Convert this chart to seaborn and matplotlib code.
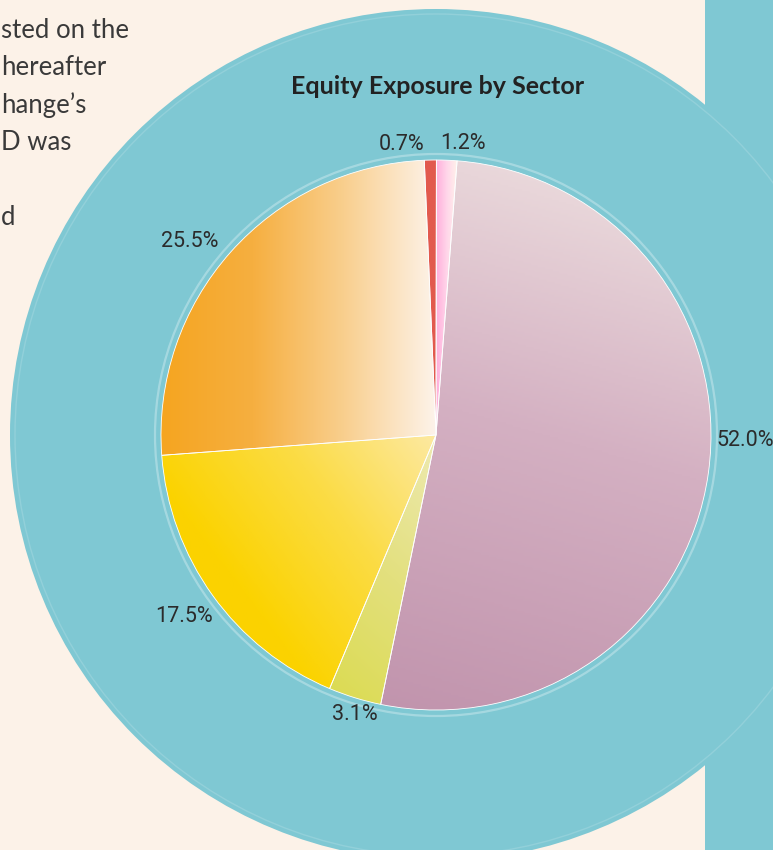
import numpy as np
import matplotlib
matplotlib.use("Agg")
import matplotlib.pyplot as plt
import seaborn as sns
from matplotlib.colors import LinearSegmentedColormap
from matplotlib.patches import Circle, Rectangle

# ---- data ----
sectors = ["Sector A", "Sector B", "Sector C", "Sector D", "Sector E", "Sector F"]
shares = [52.0, 3.1, 17.5, 25.5, 0.7, 1.2]
pct_labels = ["52.0%", "3.1%", "17.5%", "25.5%", "0.7%", "1.2%"]
title_text = "Equity Exposure by Sector"
side_lines = ["sted on the", "hereafter", "hange\u2019s", "D was", "", "d"]

# ---- style ----
sns.set_theme(style="white")
plt.rcParams["font.family"] = ["Lato", "DejaVu Sans"]

W, H = 773, 850
fig = plt.figure(figsize=(W / 100, H / 100), dpi=100)
ax = fig.add_axes([0, 0, 1, 1])
ax.set_xlim(0, W)
ax.set_ylim(0, H)
ax.set_aspect("equal")
ax.axis("off")

cream = "#fcf2e8"
teal = "#7fc8d3"
fig.patch.set_facecolor(cream)

cx, cy, R = 436, H - 435, 275
# background teal disc + right band
ax.add_patch(Circle((cx, cy), 426, facecolor=teal, edgecolor="none", zorder=1))
ax.add_patch(Rectangle((705, 0), W - 705, H, facecolor=teal, edgecolor="none", zorder=1))
ax.add_patch(Circle((cx, cy), 421, facecolor="none", edgecolor="white", lw=1.0, alpha=0.15, zorder=2))
ax.add_patch(Circle((cx, cy), R + 6, facecolor="none", edgecolor="white", lw=1.6, alpha=0.3, zorder=2))

# side paragraph text (cropped)
for i, line in enumerate(side_lines):
    ax.text(1, H - 30 - i * 37.5, line, fontsize=18.5, color="#3a3a3a",
            ha="left", va="center", zorder=3)

# pie
start = 90 - 4.4
wedges, _ = ax.pie(shares, startangle=start, counterclock=False, center=(cx, cy),
                   radius=R, frame=True,
                   wedgeprops=dict(edgecolor="white", linewidth=0.6, zorder=4))
ax.set_xlim(0, W)
ax.set_ylim(0, H)
ax.axis("off")

# gradient direction angle (deg, direction of increasing t) and colour stops
grads = [
    (80, ["#c194ad", "#d4b0c2", "#efe2e1"]),
    (70, ["#dbdb50", "#e3e07e", "#eeeab2"]),
    (35, ["#fbcf00", "#fbd300", "#fbdc45", "#fde9a2"]),
    (0, ["#f5a520", "#f6af40", "#f9cf8e", "#fdf3ea"]),
    (0, ["#e25a4e", "#e25a4e"]),
    (0, ["#ffaedb", "#ffd6ea", "#fff4ea"]),
]
n = 256
for w, (a, cols) in zip(wedges, grads):
    bb = w.get_path().get_extents()
    cmap = LinearSegmentedColormap.from_list("g", cols)
    xs, ys = np.meshgrid(np.linspace(0, 1, n), np.linspace(0, 1, n))
    t = xs * np.cos(np.deg2rad(a)) + ys * np.sin(np.deg2rad(a))
    t = (t - t.min()) / (t.max() - t.min())
    im = ax.imshow(t, extent=(bb.x0, bb.x1, bb.y0, bb.y1), origin="lower",
                   cmap=cmap, vmin=0, vmax=1, aspect="auto", zorder=3,
                   interpolation="bilinear")
    im.set_clip_path(w)
    w.set_facecolor("none")

ax.set_xlim(0, W)
ax.set_ylim(0, H)

# percentage labels
ang_shift = [-7.0, -1.0, 0.0, -3.5, -5.5, 3.0]
rad_fac = [1.125, 1.06, 1.13, 1.14, 1.065, 1.065]
cum = 0.0
total = sum(shares)
for v, lab, da, rf in zip(shares, pct_labels, ang_shift, rad_fac):
    mid = start - (cum + v / 2) / total * 360 + (-da)
    cum += v
    th = np.deg2rad(mid)
    x = cx + rf * R * np.cos(th)
    y = cy + rf * R * np.sin(th)
    ax.text(x, y, lab, fontsize=15.5, color="#2b2b2b", ha="center", va="center",
            family=["Roboto", "DejaVu Sans"], zorder=6)

ax.text(cx + 2, H - 86, title_text, fontsize=18, fontweight="bold", color="#222222",
        ha="center", va="center", zorder=6)

fig.savefig("out.png", dpi=100, facecolor=cream)
